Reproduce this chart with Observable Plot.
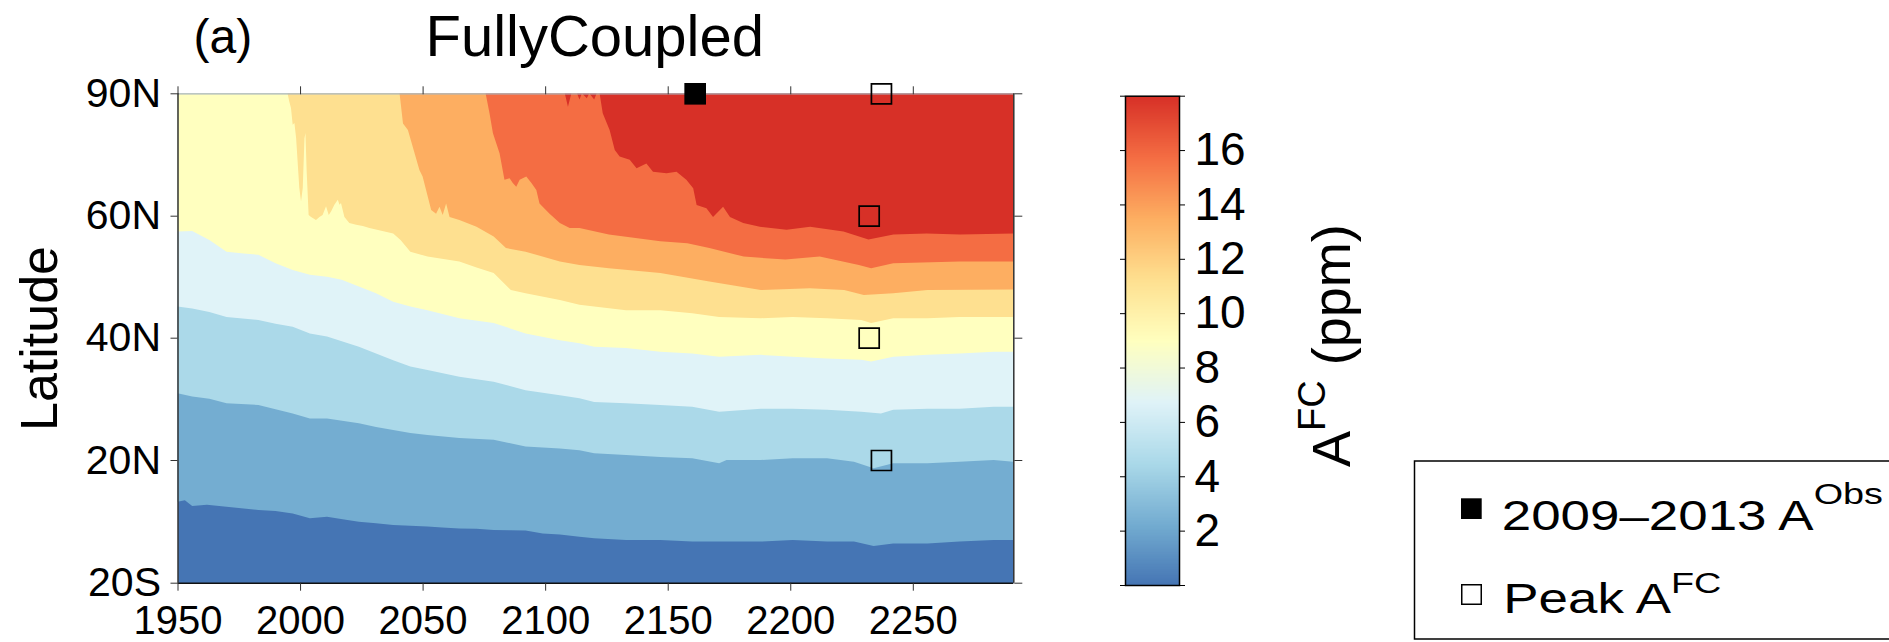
<!DOCTYPE html>
<html>
<head>
<meta charset="utf-8">
<script src="https://cdn.jsdelivr.net/npm/d3@7"></script>
<script src="https://cdn.jsdelivr.net/npm/@observablehq/plot@0.6"></script>
<style>
  html, body { margin: 0; padding: 0; background: #fff; }
  #fig { position: relative; width: 1889px; height: 642px; overflow: hidden; }
  #fig > svg { position: absolute; }
</style>
</head>
<body>
<div id="fig"></div>
<script>
const FONT = '"Liberation Sans", Arial, Helvetica, sans-serif';

// Axis ticks
const yearTicks = [1950, 2000, 2050, 2100, 2150, 2200, 2250];
const latTicks = [-20, 20, 40, 60, 90];
const latLabels = ["20S", "20N", "40N", "60N", "90N"];
const cbarTicks = [0, 2, 4, 6, 8, 10, 12, 14, 16, 18];

// Filled-contour levels (ppm) and their colours, lowest band first
const levels = [0, 2, 4, 6, 8, 10, 12, 14, 16, 18];
const bandColors = ["#4575b4", "#74add1", "#abd9e9", "#e0f3f8", "#ffffbf", "#fee090", "#fdae61", "#f46d43", "#d73027"];

// Isolines of A^FC: [year, latitude] along each contour level
const iso2 = [[1950, 6.4], [1953, 6.9], [1956, 5.0], [1962, 5.4], [1970, 4.8], [1977, 4.2], [1983, 3.7], [1990, 3.4], [1997, 2.6], [2004, 1.0], [2011, 1.5], [2018, 0.6], [2024, -0.1], [2031, -0.6], [2038, -1.2], [2045, -1.4], [2052, -1.7], [2058, -2.0], [2065, -2.3], [2072, -2.4], [2079, -2.8], [2086, -2.9], [2092, -3.0], [2099, -4.0], [2106, -4.3], [2114, -5.0], [2120, -5.5], [2133, -6.1], [2147, -6.1], [2160, -6.6], [2174, -6.6], [2188, -6.6], [2201, -6.1], [2215, -6.6], [2226, -6.6], [2234, -8.0], [2242, -7.2], [2256, -7.2], [2269, -6.6], [2283, -6.1], [2291, -6.1]];
const iso4 = [[1950, 30.9], [1956, 30.4], [1963, 30.0], [1970, 29.3], [1983, 29.0], [1990, 28.3], [1997, 27.6], [2004, 26.8], [2011, 26.8], [2024, 26.0], [2031, 25.4], [2038, 24.9], [2045, 24.4], [2052, 24.1], [2065, 23.6], [2079, 23.3], [2092, 22.2], [2106, 21.9], [2114, 21.6], [2120, 21.1], [2133, 20.8], [2147, 20.5], [2160, 20.3], [2171, 18.9], [2174, 20.0], [2188, 20.0], [2201, 20.3], [2215, 20.3], [2226, 19.4], [2234, 17.3], [2242, 18.9], [2256, 18.9], [2269, 19.4], [2283, 20.0], [2291, 19.4]];
const iso6 = [[1950, 45.1], [1956, 44.8], [1963, 44.2], [1970, 43.4], [1983, 42.9], [1990, 42.3], [1997, 41.8], [2004, 40.7], [2011, 40.2], [2024, 38.5], [2031, 37.4], [2038, 36.3], [2045, 35.3], [2052, 34.7], [2065, 33.6], [2079, 32.8], [2092, 31.4], [2106, 30.6], [2114, 30.1], [2120, 29.5], [2133, 29.3], [2147, 29.0], [2160, 28.7], [2171, 27.9], [2188, 28.4], [2201, 28.4], [2215, 28.2], [2229, 27.9], [2237, 27.6], [2242, 28.2], [2256, 28.4], [2269, 28.4], [2283, 28.7], [2291, 28.7]];
const iso8 = [[1950, 57.4], [1956, 57.5], [1963, 56.0], [1970, 54.1], [1977, 53.8], [1983, 53.6], [1990, 52.2], [1997, 51.1], [2004, 50.3], [2011, 50.0], [2017, 49.5], [2024, 48.4], [2031, 47.3], [2038, 45.9], [2045, 45.1], [2052, 44.5], [2065, 43.2], [2079, 42.4], [2092, 40.7], [2106, 39.6], [2114, 39.1], [2120, 38.5], [2133, 38.3], [2147, 37.7], [2160, 37.4], [2171, 36.9], [2188, 37.2], [2201, 36.9], [2215, 36.6], [2229, 36.4], [2233, 36.1], [2242, 36.9], [2256, 37.2], [2269, 37.4], [2283, 37.7], [2291, 37.7]];
const iso10 = [[1950, 90], [1994.9, 90], [1995.6, 88.0], [1996.3, 86.4], [1997.0, 82.3], [1997.7, 82.7], [1998.4, 79.0], [1999.7, 66.8], [2000.4, 63.5], [2001.1, 66.8], [2001.8, 79.0], [2002.2, 80.3], [2002.7, 70.9], [2003.5, 60.2], [2004.5, 59.8], [2006.5, 59.3], [2007.9, 59.8], [2009.2, 60.2], [2010.6, 62.3], [2011.7, 60.2], [2012.7, 61.1], [2014.0, 62.7], [2015.4, 63.9], [2016.1, 62.7], [2016.7, 63.1], [2018.1, 59.8], [2020.1, 58.8], [2022.9, 58.5], [2025.6, 58.3], [2028.3, 58.0], [2038, 57.1], [2041, 56.0], [2045, 54.1], [2052, 53.3], [2065, 52.5], [2072, 51.5], [2079, 50.6], [2083, 49.0], [2086, 47.8], [2092, 47.3], [2106, 46.2], [2114, 45.4], [2120, 45.1], [2133, 44.5], [2147, 44.5], [2160, 44.0], [2171, 43.4], [2188, 43.2], [2201, 43.4], [2215, 43.2], [2229, 42.9], [2233, 42.4], [2242, 43.2], [2256, 43.2], [2269, 43.4], [2291, 43.4]];
const iso12 = [[1950, 90], [2040.6, 90], [2042, 82.6], [2044, 81.0], [2048.7, 71.2], [2050, 69.6], [2053.5, 61.4], [2055.5, 60.5], [2056.9, 62.2], [2058.2, 60.2], [2059.6, 63.0], [2061, 59.8], [2065, 59.3], [2072, 58.2], [2079, 56.6], [2084, 54.7], [2092, 54.1], [2106, 52.5], [2114, 51.9], [2126, 51.4], [2147, 50.6], [2167, 49.2], [2188, 47.8], [2208, 48.1], [2222, 47.8], [2230, 47.0], [2242, 47.3], [2256, 47.8], [2291, 47.9]];
const iso14 = [[1950, 90], [2075.7, 90], [2077.3, 85.1], [2078.7, 80.2], [2081.4, 75.3], [2083.4, 68.8], [2085.5, 69.2], [2086.8, 68.0], [2088.2, 67.1], [2089.6, 68.8], [2092.3, 69.6], [2094.4, 68.0], [2096.4, 66.3], [2097.7, 63.0], [2101.8, 60.5], [2106, 58.8], [2110, 58.0], [2114, 58.0], [2126, 56.9], [2147, 55.8], [2158, 55.5], [2167, 54.7], [2181, 53.3], [2198, 52.8], [2212, 53.3], [2228, 51.9], [2233, 51.4], [2242, 52.2], [2269, 52.5], [2291, 52.5]];
const iso16 = [[1950, 90], [2108, 90], [2109.3, 86.7], [2110.7, 90], [2113, 90], [2114, 88.5], [2115, 90], [2117, 88.8], [2118, 90], [2120, 88.5], [2121, 90], [2122.2, 90], [2123.5, 85.1], [2126.3, 81.0], [2128.4, 76.1], [2130.4, 74.5], [2134.5, 73.7], [2137.3, 71.6], [2141.3, 72.8], [2144, 70.8], [2149.5, 70.4], [2153.6, 70.8], [2157.6, 68.8], [2160.4, 66.7], [2161.8, 62.6], [2165.8, 61.8], [2168.5, 59.8], [2172.6, 62.2], [2175.4, 59.8], [2180.8, 58.8], [2187.6, 58.2], [2198.5, 57.7], [2208.1, 58.2], [2221.7, 57.4], [2231.9, 56.1], [2242.1, 56.9], [2255.7, 57.1], [2269.3, 56.9], [2291, 57.1]];
const isolines = [iso2, iso4, iso6, iso8, iso10, iso12, iso14, iso16];

// Observed 2009-2013 mean reached at 90N, and year of peak A^FC by latitude
const obsYear = [2161];
const obsLat = [90];
const peakYear = [2237, 2232, 2232, 2237];
const peakLat = [90, 60, 40, 20];

const yearDomain = [1950, 2291];
const latRange = [582.7, 460, 337.7, 215.7, 93.3];

const obs = obsYear.map((year, i) => ({year, lat: obsLat[i]}));
const peaks = peakYear.map((year, i) => ({year, lat: peakLat[i]}));

const fig = document.getElementById("fig");

// Main latitude-time contour panel: each band is painted from its lower isoline up to 90N
const main = Plot.plot({
  width: 1889,
  height: 642,
  marginLeft: 177.5,
  marginRight: 1889 - 1013.3,
  marginTop: 93.3,
  marginBottom: 642 - 582.7,
  style: {fontFamily: FONT, background: "transparent", color: "black", overflow: "visible"},
  x: {domain: yearDomain},
  y: {type: "linear", domain: latTicks, range: latRange},
  marks: [
    Plot.frame({fill: bandColors[0], stroke: null}),
    ...isolines.map((iso, i) =>
      Plot.areaY(iso, {x: (d) => d[0], y1: (d) => d[1], y2: 90, fill: bandColors[i + 1]})
    ),
    Plot.ruleY([90], {stroke: "#a8b4c0", strokeWidth: 1.2}),
    Plot.ruleY([-20], {stroke: "#111", strokeWidth: 1.5}),
    Plot.ruleX(yearDomain, {stroke: "#333", strokeWidth: 1.5}),
    Plot.axisX({anchor: "bottom", ticks: yearTicks, tickSize: 8, tickPadding: 14, fontSize: 40, stroke: "#333", label: null, tickFormat: (d) => String(d)}),
    Plot.axisX({anchor: "top", ticks: yearTicks, tickSize: 8, stroke: "#333", label: null, tickFormat: () => ""}),
    Plot.axisY({anchor: "left", ticks: latTicks, tickSize: 7, tickPadding: 10, fontSize: 41, stroke: "#333", label: null, tickFormat: (d) => latLabels[latTicks.indexOf(d)]}),
    Plot.axisY({anchor: "right", ticks: latTicks, tickSize: 8, stroke: "#333", label: null, tickFormat: () => ""}),
    Plot.dot(obs, {x: "year", y: "lat", symbol: "square", r: 12.2, fill: "black"}),
    Plot.dot(peaks, {x: "year", y: "lat", symbol: "square", r: 11.3, fill: "none", stroke: "black", strokeWidth: 1.7}),
    Plot.text(["Latitude"], {text: (d) => d, frameAnchor: "left", dx: -138, rotate: -90, fontSize: 52, fill: "black", textAnchor: "middle"}),
    Plot.text(["(a)"], {text: (d) => d, frameAnchor: "top-left", dx: 15.5, dy: -40.5, lineAnchor: "bottom", textAnchor: "start", fontSize: 48, fill: "black"}),
    Plot.text(["FullyCoupled"], {text: (d) => d, frameAnchor: "top-left", dx: 247.5, dy: -38.3, lineAnchor: "bottom", textAnchor: "start", fontSize: 58, fill: "black"})
  ]
});
main.style.left = "0px";
main.style.top = "0px";
fig.appendChild(main);

// Colour bar for A^FC
const cbar = Plot.plot({
  width: 200,
  height: 642,
  marginLeft: 25,
  marginRight: 200 - 79,
  marginTop: 95.7,
  marginBottom: 642 - 585,
  style: {fontFamily: FONT, background: "transparent", color: "black", overflow: "visible"},
  x: {domain: [0, 1], axis: null},
  y: {domain: [levels[0], levels[levels.length - 1]]},
  color: {type: "linear", domain: [levels[0], levels[levels.length - 1]], range: bandColors},
  marks: [
    Plot.raster({x1: 0, x2: 1, y1: 0, y2: 18, width: 1, height: 360, fill: (x, y) => y, imageRendering: "auto"}),
    Plot.frame({stroke: "black", strokeWidth: 1.5}),
    Plot.axisY({anchor: "left", ticks: cbarTicks, tickSize: 5, stroke: "black", label: null, tickFormat: () => ""}),
    Plot.axisY({anchor: "right", ticks: cbarTicks, tickSize: 5, tickPadding: 10, fontSize: 46, stroke: "black", label: null,
      tickFormat: (d) => (d === levels[0] || d === levels[levels.length - 1]) ? "" : String(d)})
  ]
});
cbar.style.left = "1100px";
cbar.style.top = "0px";
fig.appendChild(cbar);

// Colour-bar title and marker key
const key = d3.create("svg")
  .attr("width", 1889)
  .attr("height", 642)
  .style("left", "0px")
  .style("top", "0px")
  .style("font-family", FONT)
  .style("white-space", "pre");

const cbLabel = key.append("text")
  .attr("transform", "translate(1350,467) rotate(-90)")
  .attr("font-size", 54)
  .attr("fill", "black");
cbLabel.append("tspan").text("A");
cbLabel.append("tspan").attr("font-size", 38).attr("dy", -25).text("FC");
cbLabel.append("tspan").attr("dy", 25).text(" (ppm)");

key.append("rect")
  .attr("x", 1414.5).attr("y", 461)
  .attr("width", 520).attr("height", 178)
  .attr("fill", "white").attr("stroke", "black").attr("stroke-width", 1.5);

key.append("rect")
  .attr("x", 1461).attr("y", 498.3).attr("width", 20.7).attr("height", 20.7)
  .attr("fill", "black");
const t1 = key.append("text")
  .attr("transform", "translate(1501.7,530) scale(1.26,1)")
  .attr("font-size", 42).attr("fill", "black");
t1.append("tspan").text("2009\u20132013 A");
t1.append("tspan").attr("font-size", 30).attr("dy", -26).text("Obs");

key.append("rect")
  .attr("x", 1461.75).attr("y", 584.75).attr("width", 19.5).attr("height", 19.5)
  .attr("fill", "none").attr("stroke", "black").attr("stroke-width", 1.5);
const t2 = key.append("text")
  .attr("transform", "translate(1503.3,613.3) scale(1.26,1)")
  .attr("font-size", 42).attr("fill", "black");
t2.append("tspan").text("Peak A");
t2.append("tspan").attr("font-size", 30).attr("dy", -20).text("FC");

fig.appendChild(key.node());
</script>
</body>
</html>
